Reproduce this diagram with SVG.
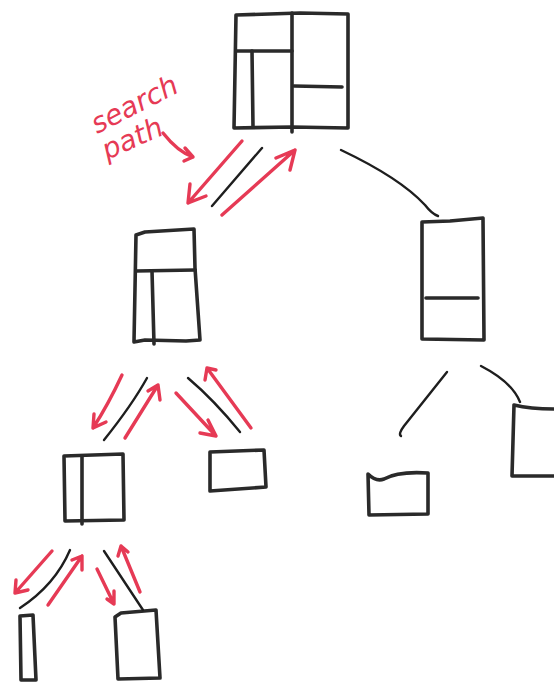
<svg xmlns="http://www.w3.org/2000/svg" width="554" height="683" viewBox="0 0 554 683">
<defs>
<style>
.n{fill:none;stroke:#2a2a2a;stroke-width:3.6;stroke-linecap:round;stroke-linejoin:round}
.e{fill:none;stroke:#1e1e1e;stroke-width:2.4;stroke-linecap:round}
.r{fill:none;stroke:#e63a55;stroke-width:3.4;stroke-linecap:round;stroke-linejoin:round}
.t{fill:#e63a55;font-family:"DejaVu Sans",sans-serif;font-size:28px;font-style:italic}
</style>
</defs>
<rect width="554" height="683" fill="#ffffff"/>
<g id="root">
<path class="n" d="M236,15 L300,13 L348,14 L348,128 L292,127 L234,128 Z"/>
<path class="n" d="M292,13 L292,132"/>
<path class="n" d="M236,51 L292,51"/>
<path class="n" d="M252,51 L253,127"/>
<path class="n" d="M294,86 L342,87"/>
</g>
<g id="mid_left">
<path class="n" d="M136,235 L145,232 L194,229 L195,268 L200,340 L186,341 L145,340 L134,342 Z"/>
<path class="n" d="M136,271 L195,270"/>
<path class="n" d="M152,271 L154,344"/>
</g>
<g id="mid_right">
<path class="n" d="M422,222 L450,221 L483,218 L484,340 L422,339 Z"/>
<path class="n" d="M426,298 L478,298"/>
</g>
<g id="low_left">
<path class="n" d="M64,456 L123,454 L124,520 L65,521 Z"/>
<path class="n" d="M82,456 L82,524"/>
</g>
<g id="low_mid">
<path class="n" d="M210,452 L264,450 L266,487 L210,491 Z"/>
</g>
<g id="low_right_a">
<path class="n" d="M368,474 Q376,482 384,479 Q398,471 428,473 L428,514 L369,515 Z"/>
</g>
<g id="low_right_b">
<path class="n" d="M514,405 Q530,409 554,409 M514,405 L512,476 L554,476"/>
</g>
<g id="leaf_a">
<path class="n" d="M20,616 L33,615 L36,680 L21,680 Z"/>
</g>
<g id="leaf_b">
<path class="n" d="M115,617 L121,613 L156,610 L160,678 L118,679 Z"/>
</g>
<g id="connectors">
<path class="e" d="M262,148 L212,206"/>
<path class="e" d="M341,150 Q400,178 425,205 Q432,214 438,216"/>
<path class="e" d="M147,378 Q132,405 104,440"/>
<path class="e" d="M188,378 Q214,400 240,432"/>
<path class="e" d="M447,372 Q420,406 404,426 Q398,434 401,436"/>
<path class="e" d="M481,366 Q512,382 520,402"/>
<path class="e" d="M70,550 Q55,585 20,608"/>
<path class="e" d="M104,551 L143,610"/>
<path class="r" d="M242,141 L188,203 M188,203 L190,184 M188,203 L206,196"/>
<path class="r" d="M222,215 L295,150 M295,150 L276,158 M295,150 L290,170"/>
<path class="r" d="M163,133 Q178,152 193,157 M193,157 L185,148 M193,157 L184,161"/>
<path class="r" d="M122,375 Q108,405 93,428 M93,428 L94,414 M93,428 L106,422"/>
<path class="r" d="M125,438 L158,385 M158,385 L148,391 M158,385 L160,400"/>
<path class="r" d="M176,393 L216,436 M216,436 L208,420 M216,436 L200,433"/>
<path class="r" d="M251,428 L207,368 M207,368 L205,380 M207,368 L216,370"/>
<path class="r" d="M52,551 L15,593 M15,593 L16,580 M15,593 L28,590"/>
<path class="r" d="M48,605 L82,556 M82,556 L72,560 M82,556 L82,570"/>
<path class="r" d="M97,569 L114,604 M114,604 L107,599 M114,604 L114,591"/>
<path class="r" d="M140,592 L121,546 M121,546 L118,556 M121,546 L128,552"/>
</g>
<g id="label">
<text class="t" transform="translate(97,134) rotate(-27)">search</text>
<text class="t" transform="translate(107,160) rotate(-24)">path</text>
</g>
</svg>
